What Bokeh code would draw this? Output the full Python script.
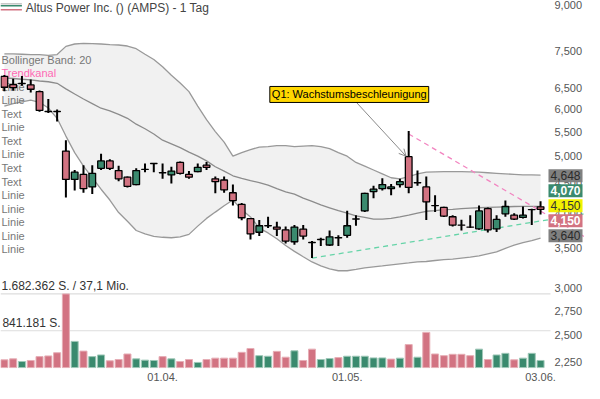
from bokeh.plotting import figure
from bokeh.models import (Range1d, LinearScale, FixedTicker, CustomJSTickFormatter,
                          Label, Arrow, OpenHead)
from bokeh.core.properties import value
from bokeh.embed import file_html
from bokeh.resources import INLINE

FONT = "Liberation Sans"

# ---------------- data ----------------
title_text = "Altus Power Inc. () (AMPS) - 1 Tag"

open_ = [6.81, 6.60, 6.62, 6.59, 6.42, 5.945, 5.945, 5.10, 4.57, 4.66,
         4.44, 4.77, 4.91, 4.73, 4.61, 4.48, 4.75, 4.86, 4.69, 4.65,
         4.88, 4.66, 4.71, 4.83, 4.58, 4.56, 4.34, 4.15, 3.925, 3.725,
         3.82, 3.80, 3.76, 3.59, 3.77, 3.58, 3.62, 3.545, 3.646, 3.68,
         3.92, 4.045, 4.36, 4.41, 4.41, 4.48, 4.99, 4.51, 4.44, 4.13,
         4.10, 3.955, 3.83, 3.80, 3.775, 4.08, 3.775, 4.00, 3.98, 3.945,
         4.065, 4.11]
high = [6.85, 6.75, 6.82, 6.73, 6.45, 6.24, 5.99, 5.32, 4.74, 4.83,
        4.83, 5.05, 4.94, 4.82, 4.62, 4.77, 4.86, 4.87, 4.86, 4.80,
        4.90, 4.72, 4.86, 4.89, 4.62, 4.62, 4.48, 4.17, 3.93, 3.905,
        3.955, 3.88, 3.81, 3.83, 3.83, 3.60, 3.646, 3.75, 3.68, 4.05,
        3.98, 4.34, 4.46, 4.59, 4.49, 4.58, 5.51, 4.73, 4.62, 4.30,
        4.11, 3.98, 3.91, 3.98, 4.13, 4.10, 3.98, 4.21, 4.01, 4.115,
        4.08, 4.20]
low = [6.43, 6.44, 6.57, 6.40, 5.94, 5.91, 5.72, 4.26, 4.38, 4.34,
       4.32, 4.74, 4.74, 4.54, 4.43, 4.47, 4.70, 4.70, 4.58, 4.50,
       4.66, 4.58, 4.70, 4.74, 4.33, 4.34, 4.13, 3.90, 3.62, 3.67,
       3.785, 3.67, 3.565, 3.55, 3.62, 3.37, 3.53, 3.53, 3.53, 3.646,
       3.82, 4.03, 4.25, 4.38, 4.30, 4.43, 4.33, 4.46, 3.905, 4.03,
       3.95, 3.81, 3.75, 3.785, 3.76, 3.72, 3.73, 3.955, 3.905, 3.93,
       3.83, 3.99]
close = [6.53, 6.52, 6.625, 6.48, 5.97, 5.94, 5.94, 4.57, 4.70, 4.41,
         4.68, 4.91, 4.77, 4.58, 4.45, 4.73, 4.752, 4.862, 4.688, 4.72,
         4.68, 4.61, 4.79, 4.79, 4.53, 4.39, 4.21, 3.94, 3.70, 3.82,
         3.822, 3.77, 3.60, 3.80, 3.67, 3.578, 3.622, 3.66, 3.644, 3.82,
         3.922, 4.33, 4.40, 4.48, 4.44, 4.53, 4.43, 4.512, 4.19, 4.128,
         3.965, 3.83, 3.828, 3.798, 4.045, 3.76, 3.915, 4.115, 3.92, 3.98,
         4.067, 4.07]

volume = [177000, 199000, 139000, 162000, 250000, 266000, 339000, 1682362, 598000, 376000,
          250000, 288000, 155000, 184000, 310000, 199000, 170000, 162000, 250000, 199000,
          139000, 184000, 117000, 184000, 215000, 215000, 215000, 348000, 436000, 272000,
          259000, 370000, 237000, 383000, 162000, 421000, 184000, 206000, 228000, 259000,
          259000, 259000, 221000, 221000, 193000, 215000, 525000, 237000, 804000, 310000,
          272000, 303000, 303000, 272000, 421000, 184000, 288000, 325000, 177000, 215000,
          325000, 162000]
volume_up = [0, 0, 1, 0, 0, 0, 0, 0, 1, 0,
             1, 1, 0, 0, 0, 1, 1, 1, 0, 1,
             0, 0, 1, 0, 0, 0, 0, 0, 0, 1,
             1, 0, 0, 1, 0, 0, 1, 1, 0, 1,
             1, 1, 1, 1, 0, 1, 0, 1, 0, 0,
             0, 0, 0, 0, 1, 0, 1, 1, 0, 1,
             1, 1]

bb_upper = [7.43, 7.43, 7.42, 7.41, 7.41, 7.39, 7.41, 7.65, 7.72, 7.74,
            7.73, 7.72, 7.70, 7.69, 7.66, 7.58, 7.42, 7.27, 7.07, 6.84,
            6.64, 6.42, 6.07, 5.76, 5.50, 5.28, 5.00, 5.07, 5.13, 5.18,
            5.19, 5.21, 5.21, 5.19, 5.20, 5.21, 5.19, 5.15, 5.07, 5.00,
            4.88, 4.81, 4.74, 4.67, 4.60, 4.58, 4.62, 4.67, 4.70, 4.705,
            4.71, 4.71, 4.71, 4.705, 4.70, 4.69, 4.68, 4.67, 4.66, 4.65,
            4.65, 4.648]
bb_middle = [6.77, 6.755, 6.735, 6.72, 6.69, 6.67, 6.63, 6.49, 6.36, 6.24,
             6.13, 6.02, 5.96, 5.88, 5.79, 5.66, 5.56, 5.45, 5.32, 5.245,
             5.17, 5.08, 5.00, 4.91, 4.80, 4.72, 4.635, 4.59, 4.55, 4.515,
             4.47, 4.41, 4.355, 4.316, 4.25, 4.196, 4.14, 4.095, 4.05, 4.01,
             3.97, 3.945, 3.92, 3.92, 3.93, 3.952, 3.98, 4.01, 4.04, 4.05,
             4.065, 4.07, 4.08, 4.09, 4.095, 4.10, 4.105, 4.11, 4.115, 4.117,
             4.117, 4.117]
bb_lower = [6.07, 6.13, 6.17, 6.21, 6.16, 6.025, 5.79, 5.405, 5.07, 4.81,
            4.60, 4.40, 4.22, 4.02, 3.886, 3.75, 3.70, 3.667, 3.653, 3.646,
            3.66, 3.694, 3.814, 3.93, 4.027, 4.126, 4.22, 4.065, 3.952, 3.785,
            3.715, 3.632, 3.538, 3.459, 3.388, 3.32, 3.27, 3.233, 3.209, 3.209,
            3.227, 3.246, 3.258, 3.27, 3.283, 3.295, 3.307, 3.32, 3.326, 3.339,
            3.351, 3.357, 3.37, 3.382, 3.40, 3.426, 3.452, 3.499, 3.545, 3.578,
            3.605, 3.64]

trend_up_x = [35, 66]
trend_up_y = [3.37, 4.00]
trend_down_x = [46, 66]
trend_down_y = [5.45, 3.66]

price_ticks = [2.25, 2.5, 2.75, 3.0, 3.5, 4.0, 4.5, 5.0, 5.5, 6.0, 6.5, 7.5, 9.0]
date_tick_idx = [18, 39, 61]
date_labels = ["01.04.", "01.05.", "03.06."]

vol_grid = [1682362, 841181]
vol_grid_labels = ["1.682.362 S. / 37,1 Mio.", "841.181 S."]

drawing_labels = ["Bollinger Band: 20", "Trendkanal", "Linie", "Linie", "Text", "Linie",
                  "Text", "Linie", "Text", "Text", "Linie", "Linie", "Linie", "Linie", "Linie"]

note_text = "Q1: Wachstumsbeschleunigung"
note_x, note_y = 30.2, 6.35
arrow_from = (40.0, 6.17)
arrow_to = (45.7, 5.00)

price_tags = ["4,648", "4,070", "4,150", "4,150", "3,640"]
tag_bg = ["#808080", "#3a8a6e", "#f2f200", "#d27382", "#808080"]
tag_fg = ["#2a2a2a", "#ffffff", "#333333", "#ffffff", "#2a2a2a"]
tag_bold = [False, True, False, True, False]

# ---------------- styling ----------------
PINK = "#d27382"
GREEN = "#3a8a6e"
X_LAST = 62.13      # right end of the price area (index units)

idx = list(range(len(close)))
body_top = [max(o, c) for o, c in zip(open_, close)]
body_bot = [min(o, c) for o, c in zip(open_, close)]
body_col = [GREEN if c >= o else PINK for o, c in zip(open_, close)]
vol_fill = [GREEN if u else PINK for u in volume_up]
vol_line = ["#9fc8b8" if u else "#e6aeb6" for u in volume_up]

p = figure(width=584, height=383, output_backend="svg", toolbar_location=None,
           y_axis_type="log", y_axis_location="right",
           x_range=Range1d(-0.44, 66.0), y_range=Range1d(2.1894, 9.136),
           min_border_left=0, min_border_top=0, min_border_right=0, min_border_bottom=0,
           background_fill_color="white", border_fill_color="white")
p.extra_y_ranges = {"vol": Range1d(-44272, 8389544), "ui": Range1d(381, 0)}
p.extra_y_scales = {"vol": LinearScale(), "ui": LinearScale()}
p.extra_x_ranges = {"ui": Range1d(0, 600)}
p.extra_x_scales = {"ui": LinearScale()}
p.outline_line_color = None
p.grid.visible = False

yax = p.yaxis[0]
yax.fixed_location = X_LAST
yax.ticker = FixedTicker(ticks=price_ticks)
yax.formatter = CustomJSTickFormatter(code="return tick.toFixed(3).replace('.', ',');")
yax.major_label_text_font = FONT
yax.major_label_text_font_size = "11px"
yax.major_label_text_color = "#555555"
yax.axis_line_color = None
yax.major_tick_line_color = None
yax.minor_tick_line_color = None
yax.major_tick_out = 0
yax.major_tick_in = 0
yax.minor_tick_out = 0
yax.minor_tick_in = 0
yax.major_label_standoff = 4

xax = p.xaxis[0]
xax.ticker = FixedTicker(ticks=date_tick_idx)
xax.major_label_overrides = {t: s for t, s in zip(date_tick_idx, date_labels)}
xax.major_label_text_font = FONT
xax.major_label_text_font_size = "11px"
xax.major_label_text_color = "#555555"
xax.axis_line_color = None
xax.major_tick_line_color = None
xax.minor_tick_line_color = None
xax.major_tick_out = 0
xax.major_tick_in = 0
xax.minor_tick_out = 0
xax.minor_tick_in = 0
xax.major_label_standoff = 3

# volume gridlines and their labels
p.segment(x0=[-0.44] * len(vol_grid), x1=[X_LAST] * len(vol_grid), y0=vol_grid, y1=vol_grid,
          y_range_name="vol", line_color="#dddddd", line_width=1.2)
p.text(x=[1, 2], y=vol_grid, text=vol_grid_labels, x_range_name="ui", y_range_name="vol",
       text_font=value(FONT), text_font_size="12px", text_color="#333333",
       text_baseline="bottom", y_offset=-1)

# Bollinger band
p.varea(x=idx, y1=bb_lower, y2=bb_upper, fill_color="#f1f1f1")
p.line(idx, bb_upper, line_color="#999999", line_width=1.3)
p.line(idx, bb_lower, line_color="#999999", line_width=1.3)
p.line(idx, bb_middle, line_color="#8c8c8c", line_width=1.3)

# drawing list on the left
list_y = [61 + 14 * k for k in range(len(drawing_labels))]
list_col = ["#ff69b4" if s == "Trendkanal" else "#777777" for s in drawing_labels]
p.text(x=[1] * len(drawing_labels), y=list_y, text=drawing_labels,
       x_range_name="ui", y_range_name="ui", text_font=value(FONT),
       text_font_size="11px", text_color=list_col, text_baseline="middle")

# title legend
p.line(x=[0, 22], y=[3.5, 3.5], x_range_name="ui", y_range_name="ui", line_color="#aaaaaa", line_width=1)
p.line(x=[0, 22], y=[5.5, 5.5], x_range_name="ui", y_range_name="ui", line_color=GREEN, line_width=1.5)
p.line(x=[0, 22], y=[9.5, 9.5], x_range_name="ui", y_range_name="ui", line_color=PINK, line_width=1.5)
p.text(x=[26], y=[7.5], text=[title_text], x_range_name="ui", y_range_name="ui",
       text_font=value(FONT), text_font_size="12px", text_color="#444444", text_baseline="middle")

# volume
p.vbar(x=idx, width=0.8, top=volume, bottom=0, y_range_name="vol",
       fill_color=vol_fill, line_color=vol_line, line_width=1)

# trend channel
p.line(trend_up_x, trend_up_y, line_color="#66d4a8", line_width=1.3, line_dash="5 4")
p.line(trend_down_x, trend_down_y, line_color="#f285c0", line_width=1.3, line_dash="5 4")

# candles
p.segment(x0=idx, y0=low, x1=idx, y1=high, line_color="black", line_width=2)
p.vbar(x=idx, width=0.76, top=body_top, bottom=body_bot, fill_color=body_col,
       line_color="black", line_width=1.3)

# annotation
p.add_layout(Arrow(end=OpenHead(size=7, line_color="#8a8a8a", line_width=1),
                   x_start=arrow_from[0], y_start=arrow_from[1],
                   x_end=arrow_to[0], y_end=arrow_to[1],
                   line_color="#8a8a8a", line_width=1))
p.add_layout(Label(x=note_x, y=note_y, text=note_text, text_font=FONT, text_font_size="11px",
                   text_color="black", text_baseline="middle", text_align="left",
                   background_fill_color="#ffd700", border_line_color="black",
                   border_line_width=1, padding=2))

# price tags on the right
tag_y = [181, 196.5, 212, 227.5, 243]
for t, bg, fg, b, yy in zip(price_tags, tag_bg, tag_fg, tag_bold, tag_y):
    p.add_layout(Label(x=563, y=yy, x_range_name="ui", y_range_name="ui", text=t,
                       text_font=FONT, text_font_size="12px", text_color=fg,
                       text_font_style="bold" if b else "normal",
                       text_baseline="middle", text_align="left",
                       background_fill_color=bg, padding=2))

open("out.html", "w").write(file_html(p, INLINE))
